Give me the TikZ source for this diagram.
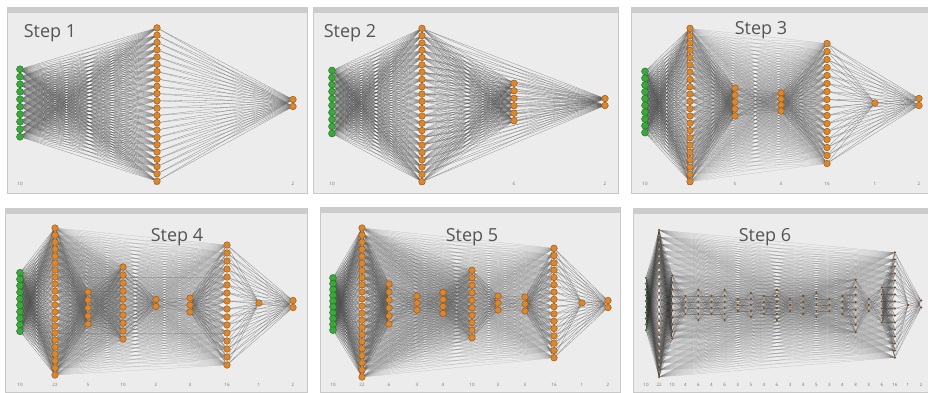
\documentclass[tikz,border=0pt]{standalone}
\usepackage{fontspec}
\setmainfont{Open Sans}
\usepackage{xcolor}
\usepackage{tikz}

\definecolor{panelgray}{RGB}{236,236,236}
\definecolor{panelline}{RGB}{200,200,200}
\definecolor{titlegray}{RGB}{204,204,204}
\definecolor{steptextc}{RGB}{85,85,85}
\definecolor{ingreen}{RGB}{58,168,58}
\definecolor{hidorange}{RGB}{222,134,42}

\pgfdeclarelayer{panel}
\pgfdeclarelayer{edges}
\pgfsetlayers{panel,edges,main}

% window of one step: name, x1, y1, x2, y2, title, title x, title y
\newcommand{\panel}[8]{%
  \begin{pgfonlayer}{panel}
    \draw[panelbox] (#2,#3) rectangle (#4,#5);
    \fill[titlebar] (#2,#3) rectangle (#4,{#3+6});
  \end{pgfonlayer}
  \node[steptext] (#1-step) at (#7,#8) {#6};}

% one layer: net, index, x, y centre, size, spacing, style, label y
\newcommand{\netlayer}[8]{%
  \node[laylab] (#1-t#2) at (#3,#8) {#5};
  \foreach \nn in {1,...,#5}
    \node[#7] (#1-#2-\nn) at (#3,{#4+(\nn-(#5+1)/2)*#6}) {};}

% full links: net, layer a, size a, layer b, size b, style
\newcommand{\netlinks}[6]{%
  \begin{pgfonlayer}{edges}
    \foreach \ii in {1,...,#3}
      \foreach \jj in {1,...,#5}
        \draw[#6] (#1-#2-\ii) -- (#1-#4-\jj);
  \end{pgfonlayer}}

\begin{document}
\begin{tikzpicture}[x=1pt, y=-1pt,
  panelbox/.style={fill=panelgray, draw=panelline, line width=0.4pt},
  titlebar/.style={fill=titlegray},
  steptext/.style={font=\fontsize{18}{20}\selectfont, text=steptextc, inner sep=0pt},
  laylab/.style={font=\fontsize{4.5}{5}\selectfont, text=black!55, inner sep=0pt},
  innode/.style={circle, inner sep=0pt, minimum size=7pt, fill=ingreen,
                 draw=ingreen!60!black, line width=0.4pt},
  hidnode/.style={circle, inner sep=0pt, minimum size=6.6pt, fill=hidorange,
                  draw=hidorange!60!black, line width=0.4pt},
  tinynode/.style={circle, inner sep=0pt, minimum size=2.6pt, fill=hidorange!55!black},
  link/.style={draw=black!70, line width=0.28pt, opacity=0.6},
  lightlink/.style={draw=black!60, line width=0.25pt, opacity=0.35},
  darklink/.style={draw=black!80, line width=0.25pt, opacity=0.45}
]
\useasboundingbox (0,0) rectangle (928,392);

%% ── STEP 1 ───────────────────────────────────────────────────────────
\panel{p1}{7}{7}{307}{193}{Step 1}{50}{33}
\netlayer{p1}{1}{20}{103}{10}{7.5}{innode}{184}
\netlayer{p1}{2}{157}{104.5}{22}{7.3}{hidnode}{184}
\netlayer{p1}{3}{293}{103}{2}{7}{hidnode}{184}
\netlinks{p1}{1}{10}{2}{22}{link}
\netlinks{p1}{2}{22}{3}{2}{link}

%% ── STEP 2 ───────────────────────────────────────────────────────────
\panel{p2}{313}{7}{618}{193}{Step 2}{350}{33}
\netlayer{p2}{1}{332}{102}{10}{7}{innode}{184}
\netlayer{p2}{2}{422}{105}{22}{7.3}{hidnode}{184}
\netlayer{p2}{3}{514}{102}{6}{7.5}{hidnode}{184}
\netlayer{p2}{4}{605}{102}{2}{7}{hidnode}{184}
\netlinks{p2}{1}{10}{2}{22}{link}
\netlinks{p2}{2}{22}{3}{6}{link}
\netlinks{p2}{3}{6}{4}{2}{link}
% old links kept
\netlinks{p2}{2}{22}{4}{2}{link}

%% ── STEP 3 ───────────────────────────────────────────────────────────
\panel{p3}{631}{7}{928}{193}{Step 3}{761}{30}
\netlayer{p3}{1}{645}{102}{10}{6.8}{innode}{184}
\netlayer{p3}{2}{690}{105}{22}{7.3}{hidnode}{184}
\netlayer{p3}{3}{735}{102}{5}{7}{hidnode}{184}
\netlayer{p3}{4}{781}{102}{4}{6}{hidnode}{184}
\netlayer{p3}{5}{827}{103.5}{16}{8}{hidnode}{184}
\netlayer{p3}{6}{875}{103}{1}{7}{hidnode}{184}
\netlayer{p3}{7}{919}{102}{2}{7}{hidnode}{184}
\netlinks{p3}{1}{10}{2}{22}{link}
\netlinks{p3}{2}{22}{3}{5}{link}
\netlinks{p3}{3}{5}{4}{4}{link}
\netlinks{p3}{4}{4}{5}{16}{link}
\netlinks{p3}{5}{16}{6}{1}{link}
\netlinks{p3}{6}{1}{7}{2}{link}
\netlinks{p3}{2}{22}{5}{16}{lightlink}
\netlinks{p3}{5}{16}{7}{2}{link}

%% ── STEP 4 ───────────────────────────────────────────────────────────
\panel{p4}{5}{208}{307}{392}{Step 4}{177}{237}
\netlayer{p4}{1}{20}{302}{10}{6.5}{innode}{385}
\netlayer{p4}{2}{55}{301.5}{22}{7}{hidnode}{385}
\netlayer{p4}{3}{88}{308}{5}{8}{hidnode}{385}
\netlayer{p4}{4}{123}{303}{10}{8}{hidnode}{385}
\netlayer{p4}{5}{156}{303}{2}{7}{hidnode}{385}
\netlayer{p4}{6}{190}{305}{3}{7}{hidnode}{385}
\netlayer{p4}{7}{227}{305}{16}{8}{hidnode}{385}
\netlayer{p4}{8}{259}{303}{1}{7}{hidnode}{385}
\netlayer{p4}{9}{293}{304}{2}{7}{hidnode}{385}
\foreach \q/\m [count=\c, remember=\m as \mp (initially 10)] in
    {2/22, 3/5, 4/10, 5/2, 6/3, 7/16, 8/1, 9/2}
  \netlinks{p4}{\c}{\mp}{\q}{\m}{link};
\netlinks{p4}{2}{22}{4}{10}{lightlink}
\netlinks{p4}{2}{22}{7}{16}{lightlink}
\netlinks{p4}{7}{16}{9}{2}{link}

%% ── STEP 5 ───────────────────────────────────────────────────────────
\panel{p5}{320}{207}{620}{392}{Step 5}{472}{237}
\netlayer{p5}{1}{333}{304}{10}{5.8}{innode}{385}
\netlayer{p5}{2}{362}{302.5}{22}{7.1}{hidnode}{385}
\netlayer{p5}{3}{389}{304}{6}{8}{hidnode}{385}
\netlayer{p5}{4}{417}{303}{3}{7}{hidnode}{385}
\netlayer{p5}{5}{443}{303}{4}{7}{hidnode}{385}
\netlayer{p5}{6}{472}{304}{10}{7.5}{hidnode}{385}
\netlayer{p5}{7}{498}{303}{3}{7}{hidnode}{385}
\netlayer{p5}{8}{525}{304}{3}{7}{hidnode}{385}
\netlayer{p5}{9}{554}{303}{16}{7.3}{hidnode}{385}
\netlayer{p5}{10}{582}{303}{1}{7}{hidnode}{385}
\netlayer{p5}{11}{608}{304}{2}{7}{hidnode}{385}
\foreach \q/\m [count=\c, remember=\m as \mp (initially 10)] in
    {2/22, 3/6, 4/3, 5/4, 6/10, 7/3, 8/3, 9/16, 10/1, 11/2}
  \netlinks{p5}{\c}{\mp}{\q}{\m}{link};
\netlinks{p5}{2}{22}{6}{10}{lightlink}
\netlinks{p5}{2}{22}{9}{16}{lightlink}
\netlinks{p5}{9}{16}{11}{2}{link}

%% ── STEP 6 ───────────────────────────────────────────────────────────
\panel{p6}{633}{208}{928}{392}{Step 6}{765}{237}
\netlayer{p6}{1}{646}{304}{10}{5.8}{tinynode, fill=ingreen!70!black}{385}
\foreach \m/\s/\yc [count=\c from 2] in
    {22/7/303.5, 10/7/307, 4/6/305, 6/6/305, 4/6/305, 6/6/305, 3/6/305,
     5/6/305, 4/6/305, 6/6/305, 3/6/305, 4/6/305, 5/6/305, 3/6/305,
     4/6/305, 8/7.5/306, 3/6/305, 6/7/305, 16/7/305, 1/6/305, 2/7/304}
{
  \pgfmathsetmacro\xx{646+13.1*(\c-1)}
  \netlayer{p6}{\c}{\xx}{\yc}{\m}{\s}{tinynode}{385}
}
\foreach \m [count=\c, remember=\m as \mp (initially 10)] in
    {22,10,4,6,4,6,3,5,4,6,3,4,5,3,4,8,3,6,16,1,2}
{
  \pgfmathtruncatemacro\q{\c+1}
  \netlinks{p6}{\c}{\mp}{\q}{\m}{darklink}
}
\netlinks{p6}{2}{22}{20}{16}{lightlink}
\netlinks{p6}{3}{10}{17}{8}{lightlink}
\netlinks{p6}{20}{16}{22}{2}{darklink}

\end{tikzpicture}
\end{document}
